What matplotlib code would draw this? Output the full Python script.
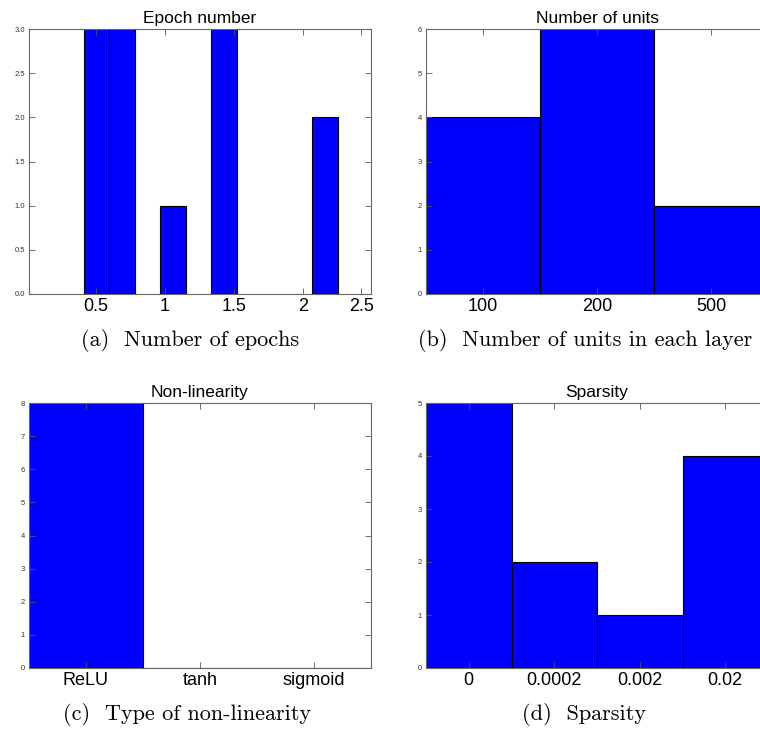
import numpy as np
import matplotlib
matplotlib.use("Agg")
import matplotlib.pyplot as plt

# (a) epochs histogram: bar left edges, counts
epoch_lefts = [0.41, 0.595, 0.965, 1.33, 2.065]
epoch_counts = [3, 3, 1, 3, 2]
epoch_ticks = [0.5, 1.0, 1.5, 2.0, 2.42]
epoch_ticklabels = ["0.5", "1", "1.5", "2", "2.5"]

# (b) units
unit_labels = ["100", "200", "500"]
unit_counts = [4, 6, 2]

# (c) non-linearity
nl_labels = ["ReLU", "tanh", "sigmoid"]
nl_counts = [8, 0, 0]

# (d) sparsity
sp_labels = ["0", "0.0002", "0.002", "0.02"]
sp_counts = [5, 2, 1, 4]

plt.rcParams["font.family"] = ["Liberation Sans", "DejaVu Sans"]

W, H = 760, 731
fig = plt.figure(figsize=(W / 100, H / 100), dpi=100)


def px_axes(left, top, width, height):
    return fig.add_axes([left / W, 1 - (top + height) / H, width / W, height / H])


def style(ax, title):
    ax.set_title(title, fontsize=12.5, pad=4)
    ax.tick_params(direction="in", top=True, right=True, length=4, width=0.6,
                   color="#555555")
    ax.tick_params(axis="y", labelsize=5.5, labelcolor="#333333", pad=3)
    ax.tick_params(axis="x", labelsize=13, pad=3)
    for s in ax.spines.values():
        s.set_linewidth(0.8)
        s.set_color("#666666")


blue = "#0000ff"

# (a)
ax = px_axes(29, 29, 342, 265)
ax.bar(epoch_lefts, epoch_counts, width=0.188, align="edge", color=blue,
       edgecolor="black", linewidth=0.8)
ax.set_xlim(0.015, 2.49)
ax.set_ylim(0, 3)
ax.set_yticks(np.arange(0, 3.01, 0.5))
ax.set_yticklabels([f"{v:.1f}" for v in np.arange(0, 3.01, 0.5)])
ax.set_xticks(epoch_ticks)
ax.set_xticklabels(epoch_ticklabels)
style(ax, "Epoch number")

# (b)
ax = px_axes(426, 29, 342, 265)
x = np.arange(len(unit_labels))
ax.bar(x, unit_counts, width=1.0, color=blue, edgecolor="black", linewidth=0.8)
ax.set_xlim(-0.5, len(unit_labels) - 0.5)
ax.set_ylim(0, 6)
ax.set_xticks(x)
ax.set_xticklabels(unit_labels)
style(ax, "Number of units")

# (c)
ax = px_axes(29, 403, 342, 265)
x = np.arange(len(nl_labels))
ax.bar(x, nl_counts, width=1.0, color=blue, edgecolor="black", linewidth=0.8)
ax.set_xlim(-0.5, len(nl_labels) - 0.5)
ax.set_ylim(0, 8)
ax.set_xticks(x)
ax.set_xticklabels(nl_labels)
style(ax, "Non-linearity")

# (d)
ax = px_axes(426, 403, 342, 265)
x = np.arange(len(sp_labels))
ax.bar(x, sp_counts, width=1.0, color=blue, edgecolor="black", linewidth=0.8)
ax.set_xlim(-0.5, len(sp_labels) - 0.5)
ax.set_ylim(0, 5)
ax.set_xticks(x)
ax.set_xticklabels(sp_labels)
style(ax, "Sparsity")

# captions
cap = dict(fontsize=16, family="cmr10", ha="center", va="center")
fig.text(190 / W, 1 - 341 / H, "(a)  Number of epochs", **cap)
fig.text(585 / W, 1 - 341 / H, "(b)  Number of units in each layer", **cap)
fig.text(187 / W, 1 - 715 / H, "(c)  Type of non-linearity", **cap)
fig.text(584 / W, 1 - 715 / H, "(d)  Sparsity", **cap)

fig.savefig("out.png", dpi=100)
